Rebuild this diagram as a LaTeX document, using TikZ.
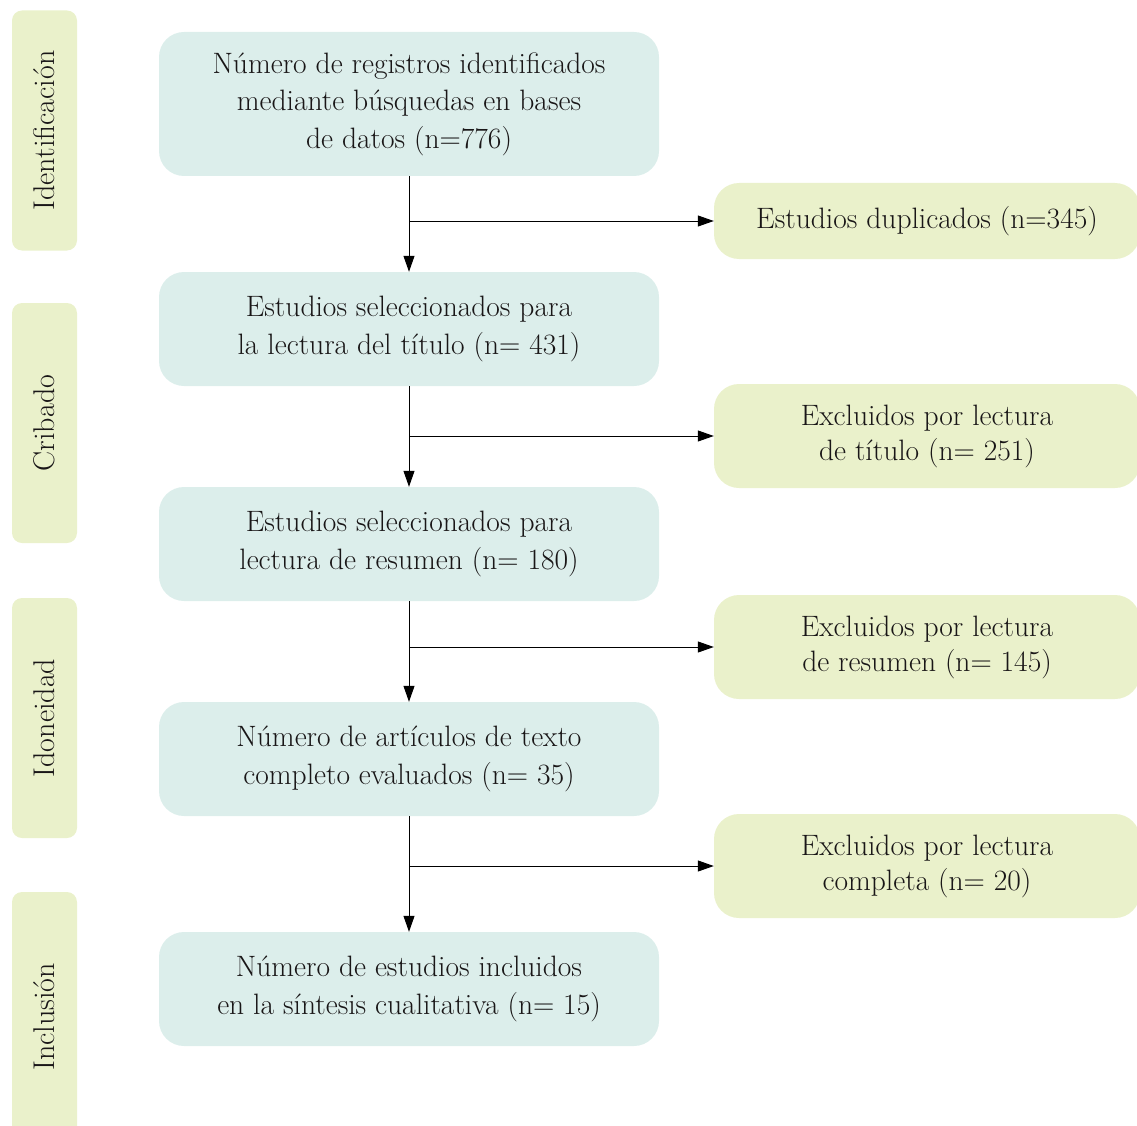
\documentclass[tikz,border=0pt]{standalone}
\usetikzlibrary{arrows.meta,positioning}

\definecolor{tealbox}{RGB}{220,238,235}
\definecolor{greenbox}{RGB}{234,241,203}
\definecolor{inktext}{RGB}{25,22,23}

\tikzset{
  paso/.style={rectangle,rounded corners=25pt,fill=tealbox,text=inktext,
    minimum width=500pt,minimum height=114pt,align=center,
    font=\fontsize{29.5}{37.5}\selectfont},
  excluido/.style={rectangle,rounded corners=25pt,fill=greenbox,text=inktext,
    minimum width=426pt,align=center,
    font=\fontsize{29.5}{35}\selectfont},
  fase/.style={rectangle,rounded corners=10pt,fill=greenbox,text=inktext,
    minimum width=65pt,minimum height=240pt,
    font=\fontsize{30}{32}\selectfont},
  flecha/.style={draw=black,line width=1pt,-{Triangle[length=16pt,width=11pt]}},
}

\begin{document}
\begin{tikzpicture}[x=1pt,y=-1pt]
  \useasboundingbox (0,0) rectangle (1137,1126);
  \clip (0,0) rectangle (1137,1126);

  % fases
  \node[fase] (ident) at (44.5,130.5) {\rotatebox{90}{Identificación}};
  \node[fase] (crib) at (44.5,423) {\rotatebox{90}{Cribado}};
  \node[fase] (idon) at (44.5,718) {\rotatebox{90}{Idoneidad}};
  \node[fase,minimum height=250pt] (incl) at (44.5,1017) {\rotatebox{90}{Inclusión}};

  % pasos
  \node[paso,minimum height=144pt] (b1) at (409,104)
    {Número de registros identificados\\mediante búsquedas en bases\\de datos (n=776)};
  \node[paso] (b2) at (409,329)
    {Estudios seleccionados para\\la lectura del título (n= 431)};
  \node[paso] (b3) at (409,544)
    {Estudios seleccionados para\\lectura de resumen (n= 180)};
  \node[paso] (b4) at (409,759)
    {Número de artículos de texto\\completo evaluados (n= 35)};
  \node[paso] (b5) at (409,989)
    {Número de estudios incluidos\\en la síntesis cualitativa (n= 15)};

  % excluidos
  \node[excluido,minimum height=76pt] (e1) at (927,221) {Estudios duplicados (n=345)};
  \node[excluido,minimum height=104pt] (e2) at (927,436) {Excluidos por lectura\\de título (n= 251)};
  \node[excluido,minimum height=104pt] (e3) at (927,647) {Excluidos por lectura\\de resumen (n= 145)};
  \node[excluido,minimum height=104pt] (e4) at (927,866) {Excluidos por lectura\\completa (n= 20)};

  % conectores
  \draw[flecha] (b1) -- (b2);
  \draw[flecha] (b2) -- (b3);
  \draw[flecha] (b3) -- (b4);
  \draw[flecha] (b4) -- (b5);
  \draw[flecha] (b1 |- e1) -- (e1);
  \draw[flecha] (b2 |- e2) -- (e2);
  \draw[flecha] (b3 |- e3) -- (e3);
  \draw[flecha] (b4 |- e4) -- (e4);
\end{tikzpicture}
\end{document}
